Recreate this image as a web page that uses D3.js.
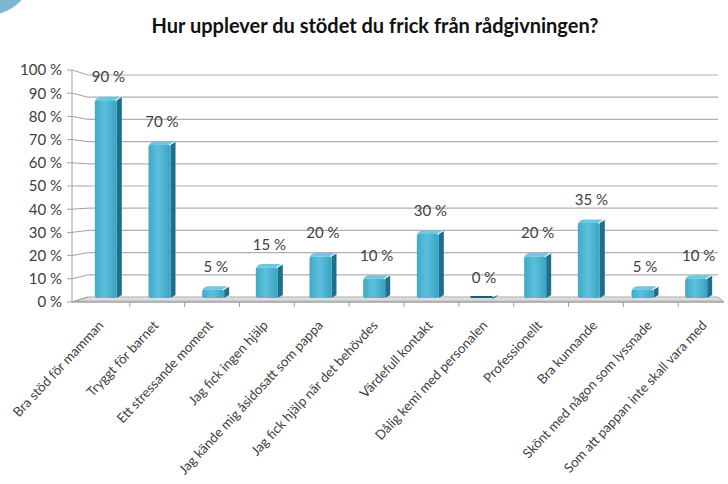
<!DOCTYPE html>
<html><head><meta charset="utf-8">
<script src="https://cdn.jsdelivr.net/npm/d3@7"></script>
<style>body{margin:0;background:#fff;}svg{display:block;}</style>
</head><body>
<script>
const categories = ["Bra stöd för mamman","Tryggt för barnet","Ett stressande moment","Jag fick ingen hjälp","Jag kände mig åsidosatt som pappa","Jag fick hjälp när det behövdes","Värdefull kontakt","Dålig kemi med personalen","Professionellt","Bra kunnande","Skönt med någon som lyssnade","Som att pappan inte skall vara med"];
const values = [90,70,5,15,20,10,30,0,20,35,5,10];
const yTicks = [0,10,20,30,40,50,60,70,80,90,100];
const title = "Hur upplever du stödet du frick från rådgivningen?";

const W=728,H=484;
const svg=d3.select("body").append("svg").attr("width",W).attr("height",H);
const defs=svg.append("defs");
const fg=defs.append("linearGradient").attr("id","front").attr("x1",0).attr("x2",1);
fg.append("stop").attr("offset","0").attr("stop-color","#3ea9c8");
fg.append("stop").attr("offset","0.45").attr("stop-color","#5cc0dc");
fg.append("stop").attr("offset","1").attr("stop-color","#3aa3c2");
const fl=defs.append("linearGradient").attr("id","floor").attr("x1",0).attr("x2",0).attr("y1",0).attr("y2",1);
fl.append("stop").attr("offset","0").attr("stop-color","#ececec");
fl.append("stop").attr("offset","1").attr("stop-color","#c4c4c4");
const cg=defs.append("radialGradient").attr("id","corner").attr("cx","0").attr("cy","0").attr("r","1");
cg.append("stop").attr("offset","0").attr("stop-color","#3f86a8");
cg.append("stop").attr("offset","1").attr("stop-color","#7db6d0");

// decorative corner
svg.append("circle").attr("cx",-12).attr("cy",-30).attr("r",45).attr("fill","url(#corner)");

const font="Lato, 'Open Sans', sans-serif";
const txt="#404040";

svg.append("text").attr("x",375).attr("y",33).attr("text-anchor","middle")
  .attr("font-family",font).attr("font-weight","bold").attr("font-size",20).attr("fill","#111").text(title);

const xL=72, xBack=88, xRight=718;
const yBack=d3.scaleLinear().domain([0,100]).range([297,75]);
const yFront=d3.scaleLinear().domain([0,100]).range([302,70]);
const yBar=d3.scaleLinear().domain([0,100]).range([298,75]);
const xFront=d3.scaleBand().domain(categories).range([75,733]);
const xBar=d3.scaleBand().domain(categories).range([81.5,725.5]);

// floor
svg.append("path").attr("d",`M${xBack},${yBack(0)}L${xRight},${yBack(0)}L${xRight+6},${yFront(0)}L${xL},${yFront(0)}Z`)
  .attr("fill","url(#floor)").attr("stroke","#a8a8a8").attr("stroke-width",1);

// gridlines and wall lines
const g=svg.append("g");
yTicks.forEach(v=>{
  if(v>0) g.append("line").attr("x1",xBack).attr("x2",xRight).attr("y1",yBack(v)).attr("y2",yBack(v))
    .attr("stroke","#b0b0b0").attr("stroke-width",1.2);
  g.append("line").attr("x1",xL).attr("x2",xBack).attr("y1",yFront(v)).attr("y2",yBack(v))
    .attr("stroke","#a0a0a0").attr("stroke-width",1);
  g.append("line").attr("x1",xL-5).attr("x2",xL).attr("y1",yFront(v)).attr("y2",yFront(v))
    .attr("stroke","#a0a0a0").attr("stroke-width",1);
});
g.append("line").attr("x1",xL).attr("x2",xL).attr("y1",yFront(100)).attr("y2",yFront(0)).attr("stroke","#a0a0a0");

// y labels
svg.append("g").selectAll("text").data(yTicks).join("text")
  .attr("x",62).attr("y",d=>yFront(d)).attr("dy","0.36em").attr("text-anchor","end")
  .attr("font-family",font).attr("font-size",15).attr("fill",txt).text(d=>d+" %");

// front axis
svg.append("line").attr("x1",xL).attr("x2",xRight+6).attr("y1",yFront(0)).attr("y2",yFront(0)).attr("stroke","#a0a0a0");
categories.slice(1).forEach(c=>{
  const x=xFront(c);
  svg.append("line").attr("x1",x).attr("x2",x).attr("y1",yFront(0)).attr("y2",yFront(0)+5).attr("stroke","#a0a0a0");
});

// bars
const fw=22, sw=5, dz=3;
const bars=svg.append("g");
categories.forEach((c,i)=>{
  const v=values[i];
  const cx=xBar(c)+xBar.bandwidth()/2;
  const x0=cx-13.5, x1=x0+fw;
  const bot=yBar(0);
  let top=yBar(v);
  if(bot-top<2) top=bot-2;
  bars.append("path").attr("d",`M${x1},${top+dz}L${x1+sw},${top}L${x1+sw},${bot-dz}L${x1},${bot}Z`)
    .attr("fill",v===0?"#1d5d73":"#1f6f8b");
  if(v>0){
    bars.append("path").attr("d",`M${x0},${bot}L${x0},${top+dz+2}Q${x0},${top+dz} ${x0+3},${top+dz}L${x1-2},${top+dz}L${x1+sw-2},${top}L${x1+1},${top-0.5}L${x0+6},${top-0.5}Q${x0},${top} ${x0},${top+dz+3}Z`)
      .attr("fill","#6cc8e0");
    bars.append("rect").attr("x",x0).attr("y",top+dz).attr("width",fw).attr("height",bot-top-dz)
      .attr("rx",2).attr("fill","url(#front)");
  } else {
    bars.append("rect").attr("x",x0).attr("y",top).attr("width",fw).attr("height",bot-top).attr("fill","#1d5d73");
  }
  svg.append("text").attr("x",cx).attr("y",yBar(v)-15).attr("text-anchor","middle")
    .attr("font-family",font).attr("font-size",15).attr("fill",txt).text(v+" %");
});

// x labels
svg.append("g").selectAll("text").data(categories).join("text")
  .attr("transform",d=>`translate(${xFront(d)+xFront.bandwidth()/2+2},${yFront(0)+24}) rotate(-47)`)
  .attr("text-anchor","end").attr("font-family",font).attr("font-size",13.3).attr("fill",txt).text(d=>d);
</script>
</body></html>
